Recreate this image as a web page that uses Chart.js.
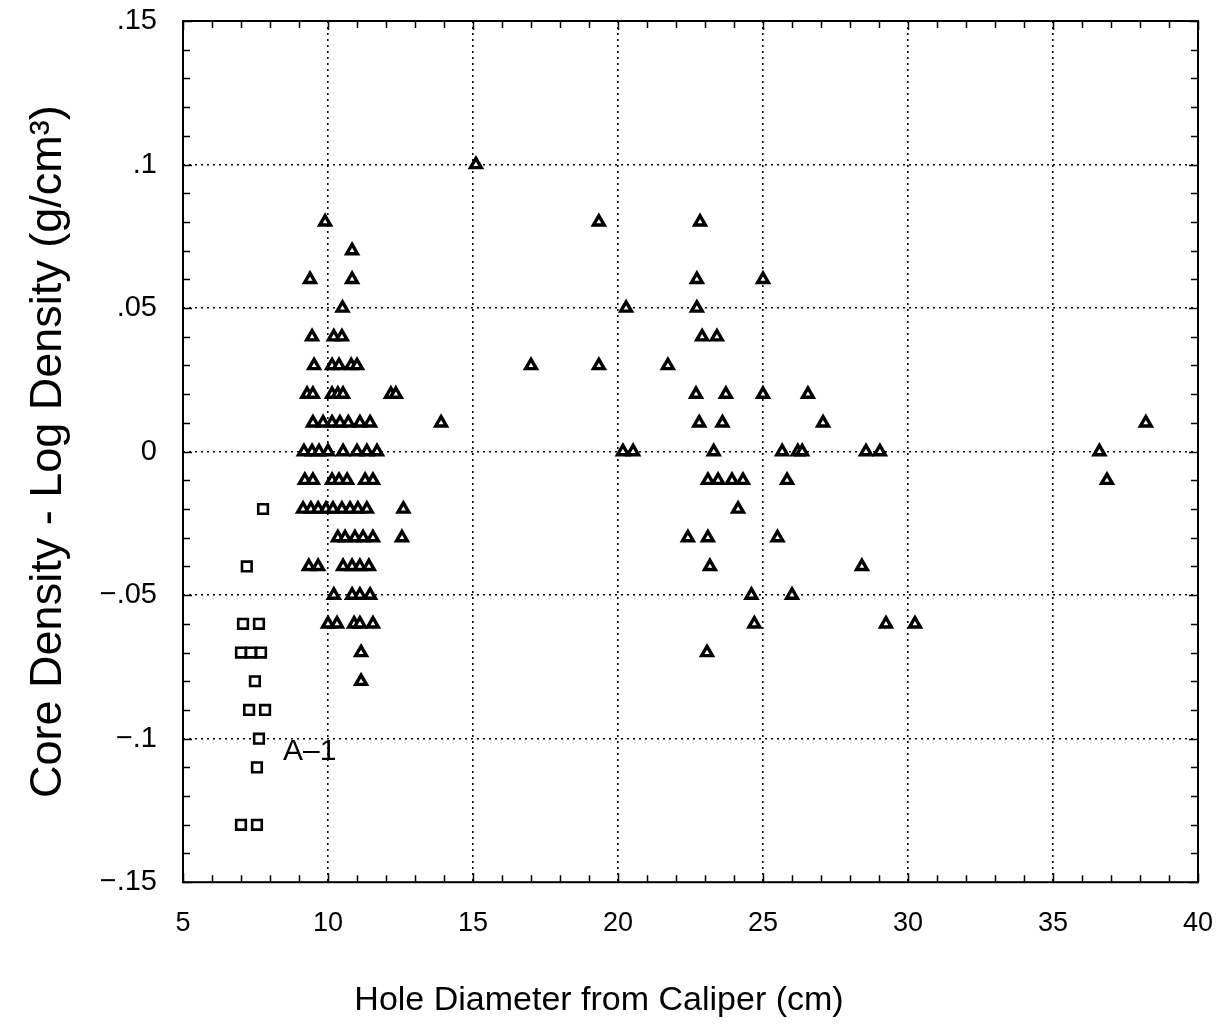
<!DOCTYPE html>
<html>
<head>
<meta charset="utf-8">
<script src="https://cdn.jsdelivr.net/npm/chart.js@4.4.0/dist/chart.umd.min.js"></script>
<style>
  html, body { margin: 0; padding: 0; background: #fff; }
  #wrap { width: 1219px; height: 1030px; }
</style>
</head>
<body>
<div id="wrap"><canvas id="chart" width="1219" height="1030"></canvas></div>
<script>
// core density - log density levels (g/cm3) and the hole diameters (cm) plotted at each level
const triangleLevels = [0.10, 0.08, 0.07, 0.06, 0.05, 0.04, 0.03, 0.02, 0.01, 0, -0.01, -0.02, -0.03, -0.04, -0.05, -0.06, -0.07, -0.08];
const triangleDiameters = [
    [15.1],
    [9.9, 19.34, 22.83],
    [10.83],
    [9.38, 10.83, 22.72, 25.0],
    [10.5, 20.28, 22.72],
    [9.45, 10.2, 10.48, 22.9, 23.41],
    [9.52, 10.14, 10.38, 10.8, 11.0, 17.0, 19.34, 21.72],
    [9.28, 9.48, 10.14, 10.34, 10.52, 12.17, 12.34, 22.69, 23.72, 25.0, 26.55],
    [9.48, 9.83, 10.14, 10.41, 10.7, 11.1, 11.45, 13.9, 22.8, 23.6, 27.07, 38.2],
    [9.17, 9.45, 9.69, 10.0, 10.52, 11.0, 11.34, 11.69, 20.17, 20.52, 23.3, 25.66, 26.2, 26.35, 28.55, 29.03, 36.6],
    [9.2, 9.48, 10.14, 10.38, 10.66, 11.28, 11.55, 23.1, 23.45, 23.93, 24.31, 25.83, 36.86],
    [9.14, 9.41, 9.66, 9.93, 10.17, 10.48, 10.76, 11.03, 11.34, 12.6, 24.14],
    [10.34, 10.59, 10.93, 11.21, 11.55, 12.55, 22.41, 23.1, 25.5],
    [9.34, 9.66, 10.52, 10.83, 11.1, 11.41, 23.17, 28.41],
    [10.2, 10.83, 11.1, 11.45, 24.6, 26.0],
    [10.0, 10.31, 10.9, 11.1, 11.55, 24.7, 29.24, 30.24],
    [11.14, 23.07],
    [11.14],
];

// well A-1 (squares)
const squareLevels = [-0.02, -0.04, -0.06, -0.07, -0.08, -0.09, -0.10, -0.11, -0.13];
const squareDiameters = [
    [7.76],
    [7.2],
    [7.07, 7.62],
    [7.0, 7.34, 7.69],
    [7.48],
    [7.28, 7.83],
    [7.62],
    [7.55],
    [7.0, 7.55],
];

const xMin = 5, xMax = 40, xStep = 5;
const yMin = -0.15, yMax = 0.15, yStep = 0.05;
const xTitle = "Hole Diameter from Caliper (cm)";
const yTitle = "Core Density - Log Density (g/cm³)";
const wellName = "A–1";

const sans = "'Liberation Sans', Arial, sans-serif";

function toPoints(levels, diameters) {
    const pts = [];
    levels.forEach((lv, i) => diameters[i].forEach((d) => pts.push({ x: d, y: lv })));
    return pts;
}

function isEdge(value, lo, hi) {
    return Math.abs(value - lo) < 1e-9 || Math.abs(value - hi) < 1e-9;
}

// box around the plot, inward minor ticks on all four sides, and the well label
const framePlugin = {
    id: "frame",
    afterDatasetsDraw(chart) {
        const { ctx, scales: { x, y } } = chart;
        ctx.save();
        ctx.fillStyle = "#000";
        ctx.font = "30px " + sans;
        ctx.textAlign = "left";
        ctx.textBaseline = "middle";
        ctx.fillText(wellName, x.getPixelForValue(8.45), y.getPixelForValue(-0.1045));
        ctx.restore();
    },
    afterDraw(chart) {
        const { ctx, chartArea: a, scales: { x, y } } = chart;
        ctx.save();
        ctx.strokeStyle = "#000";
        ctx.lineWidth = 1.5;
        ctx.beginPath();
        for (let i = 0; i <= xMax - xMin; i++) {
            const px = Math.round(x.getPixelForValue(xMin + i)) + 0.5;
            const len = i % 5 === 0 ? 9 : 7;
            ctx.moveTo(px, a.bottom); ctx.lineTo(px, a.bottom - len);
            ctx.moveTo(px, a.top); ctx.lineTo(px, a.top + len);
        }
        for (let i = 0; i <= 30; i++) {
            const py = Math.round(y.getPixelForValue(yMin + i * 0.01)) + 0.5;
            const len = i % 5 === 0 ? 9 : 7;
            ctx.moveTo(a.left, py); ctx.lineTo(a.left + len, py);
            ctx.moveTo(a.right, py); ctx.lineTo(a.right - len, py);
        }
        ctx.stroke();
        ctx.lineWidth = 2;
        ctx.strokeRect(a.left, a.top, a.right - a.left, a.bottom - a.top);
        ctx.restore();
    },
};

new Chart(document.getElementById("chart"), {
    type: "scatter",
    data: {
        datasets: [
            {
                label: "A-1",
                data: toPoints(squareLevels, squareDiameters),
                pointStyle: "rect",
                pointRadius: 6.8,
                borderWidth: 2.6,
                borderColor: "#000",
                backgroundColor: "#fff",
            },
            {
                label: "other wells",
                data: toPoints(triangleLevels, triangleDiameters),
                pointStyle: "triangle",
                pointRadius: 6.2,
                borderWidth: 3.4,
                borderColor: "#000",
                backgroundColor: "#fff",
            },
        ],
    },
    options: {
        responsive: false,
        animation: false,
        events: [],
        layout: { padding: { top: 21, right: 21, left: 0, bottom: 0 } },
        plugins: {
            legend: { display: false },
            tooltip: { enabled: false },
            title: {
                display: true,
                position: "bottom",
                text: xTitle,
                color: "#000",
                font: { family: sans, size: 34, weight: "normal" },
                padding: { top: 0, bottom: 9 },
            },
        },
        scales: {
            x: {
                type: "linear",
                min: xMin,
                max: xMax,
                afterFit: (scale) => {
                    scale.height = 1030 - 883 - 49;
                    scale.paddingLeft = 0;
                    scale.paddingRight = 0;
                },
                ticks: {
                    stepSize: xStep,
                    padding: 25,
                    maxRotation: 0,
                    color: "#000",
                    font: { family: sans, size: 27 },
                },
                grid: {
                    drawTicks: false,
                    lineWidth: 1.6,
                    color: (c) => (c.tick && isEdge(c.tick.value, xMin, xMax) ? "rgba(0,0,0,0)" : "#000"),
                },
                border: { display: false, dash: [2, 4] },
            },
            y: {
                type: "linear",
                min: yMin,
                max: yMax,
                afterFit: (scale) => {
                    scale.width = 183;
                    scale.paddingTop = 0;
                    scale.paddingBottom = 0;
                },
                ticks: {
                    stepSize: yStep,
                    padding: 26,
                    color: "#000",
                    font: { family: sans, size: 29 },
                    callback: (v) => {
                        if (Math.abs(v) < 1e-9) return "0";
                        const s = Math.abs(v).toFixed(2).replace(/0+$/, "").replace(/^0/, "");
                        return (v < 0 ? "−" : "") + s;
                    },
                },
                grid: {
                    drawTicks: false,
                    lineWidth: 1.6,
                    color: (c) => (c.tick && isEdge(c.tick.value, yMin, yMax) ? "rgba(0,0,0,0)" : "#000"),
                },
                border: { display: false, dash: [2, 4] },
                title: {
                    display: true,
                    text: yTitle,
                    color: "#000",
                    font: { family: sans, size: 45 },
                    padding: { top: 22, bottom: 0 },
                },
            },
        },
    },
    plugins: [framePlugin],
});
</script>
</body>
</html>
